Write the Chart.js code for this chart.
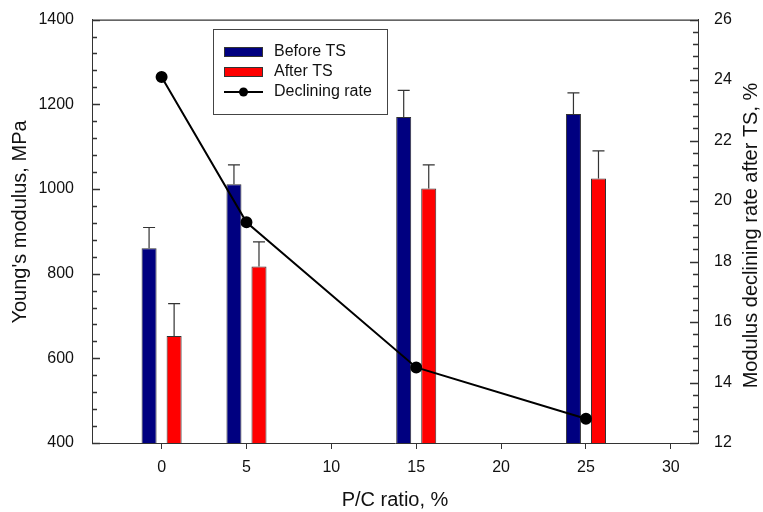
<!DOCTYPE html>
<html>
<head>
<meta charset="utf-8">
<script src="https://cdn.jsdelivr.net/npm/chart.js@4.4.1/dist/chart.umd.min.js"></script>
<style>
  html, body { margin: 0; padding: 0; background: #fff; }
  #wrap { width: 763px; height: 512px; position: relative; }
</style>
</head>
<body>
<div id="wrap"><canvas id="chart"></canvas></div>
<script>
// P/C ratio (%)
const ratios     = [0, 5, 15, 25];
// Young's modulus (MPa)
const beforeTS   = [860, 1011, 1170, 1177];
const beforeErr  = [49, 46, 63, 50];
const afterTS    = [653, 817, 1001, 1025];
const afterErr   = [76, 58, 56, 65];
// declining rate after TS (%)
const declRate   = [24.1, 19.3, 14.5, 12.8];

const xTicks     = [0, 5, 10, 15, 20, 25, 30];
const leftTicks  = [400, 600, 800, 1000, 1200, 1400];
const rightTicks = [12, 14, 16, 18, 20, 22, 24, 26];
const MINOR_PER_MAJOR = 5;

const FONT = "'Liberation Sans', Arial, sans-serif";
const AXIS = '#333';
const errBars = { 0: beforeErr, 1: afterErr };

const pts = ys => ratios.map((x, i) => ({ x, y: ys[i] }));

// upper error bars, drawn right after each bar dataset so the line stays on top
const errorBarPlugin = {
  id: 'errorBars',
  afterDatasetDraw(chart, args) {
    const errs = errBars[args.index];
    if (!errs) return;
    const ctx = chart.ctx;
    const y = chart.scales.y;
    const vals = chart.data.datasets[args.index].data;
    ctx.save();
    ctx.strokeStyle = '#333';
    ctx.lineWidth = 1.2;
    args.meta.data.forEach((bar, i) => {
      const top = y.getPixelForValue(vals[i].y);
      const end = y.getPixelForValue(vals[i].y + errs[i]);
      ctx.beginPath();
      ctx.moveTo(bar.x, top);
      ctx.lineTo(bar.x, end);
      ctx.moveTo(bar.x - 6, end);
      ctx.lineTo(bar.x + 6, end);
      ctx.stroke();
    });
    ctx.restore();
  }
};

// inward ticks (major + 4 minor between) along one vertical axis
function axisTicks(ctx, scale, majors, x0, dir) {
  for (let i = 0; i < majors.length; i++) {
    const p = Math.round(scale.getPixelForValue(majors[i])) + 0.5;
    ctx.moveTo(x0, p);
    ctx.lineTo(x0 + dir * 8, p);
    if (i === majors.length - 1) break;
    const step = (majors[i + 1] - majors[i]) / MINOR_PER_MAJOR;
    for (let k = 1; k < MINOR_PER_MAJOR; k++) {
      const q = Math.round(scale.getPixelForValue(majors[i] + k * step)) + 0.5;
      ctx.moveTo(x0, q);
      ctx.lineTo(x0 + dir * 5, q);
    }
  }
}

// frame top line, y ticks, y titles, legend box
const framePlugin = {
  id: 'frame',
  afterDraw(chart) {
    const ctx = chart.ctx;
    const a = chart.chartArea;
    ctx.save();
    ctx.strokeStyle = AXIS;
    ctx.lineWidth = 1.3;
    ctx.beginPath();
    ctx.moveTo(a.left, a.top + 0.5);
    ctx.lineTo(a.right, a.top + 0.5);
    axisTicks(ctx, chart.scales.y, leftTicks, a.left, 1);
    axisTicks(ctx, chart.scales.y2, rightTicks, a.right, -1);
    ctx.stroke();

    ctx.fillStyle = '#111';
    ctx.font = '20px ' + FONT;
    ctx.textAlign = 'center';
    ctx.textBaseline = 'middle';
    ctx.save();
    ctx.translate(20.5, 222);
    ctx.rotate(-Math.PI / 2);
    ctx.fillText("Young's modulus, MPa", 0, 0);
    ctx.restore();
    ctx.save();
    ctx.translate(751, 235.5);
    ctx.rotate(-Math.PI / 2);
    ctx.fillText('Modulus declining rate after TS, %', 0, 0);
    ctx.restore();

    // legend
    const lx = 213, ly = 29, lw = 174, lh = 85;
    ctx.strokeStyle = '#444';
    ctx.lineWidth = 1;
    ctx.strokeRect(lx + 0.5, ly + 0.5, lw, lh);
    ctx.font = '16px ' + FONT;
    ctx.textAlign = 'left';
    chart.data.datasets.forEach((ds, i) => {
      const cy = 52 + i * 20;
      if (ds.type === 'line') {
        ctx.strokeStyle = ds.borderColor;
        ctx.lineWidth = 2;
        ctx.beginPath();
        ctx.moveTo(224, cy);
        ctx.lineTo(263, cy);
        ctx.stroke();
        ctx.fillStyle = ds.pointBackgroundColor;
        ctx.beginPath();
        ctx.arc(243.5, cy, 4.5, 0, Math.PI * 2);
        ctx.fill();
      } else {
        ctx.fillStyle = ds.backgroundColor;
        ctx.fillRect(224, cy - 5, 39, 10);
        ctx.strokeStyle = '#333';
        ctx.lineWidth = 1;
        ctx.strokeRect(224.5, cy - 4.5, 38, 9);
      }
      ctx.fillStyle = '#111';
      ctx.fillText(ds.label, 274, cy);
    });
    ctx.restore();
  }
};

const plain = v => String(v);

new Chart(document.getElementById('chart'), {
  data: {
    datasets: [
      {
        type: 'bar', label: 'Before TS', data: pts(beforeTS), yAxisID: 'y',
        backgroundColor: '#000080', borderColor: '#333', borderWidth: 1,
        categoryPercentage: 0.59, barPercentage: 0.6, order: 2
      },
      {
        type: 'bar', label: 'After TS', data: pts(afterTS), yAxisID: 'y',
        backgroundColor: '#ff0000', borderColor: '#333', borderWidth: 1,
        categoryPercentage: 0.59, barPercentage: 0.6, order: 2
      },
      {
        type: 'line', label: 'Declining rate', data: pts(declRate), yAxisID: 'y2',
        borderColor: '#000', borderWidth: 2, pointRadius: 5, pointHoverRadius: 5,
        pointBackgroundColor: '#000', pointBorderColor: '#000', tension: 0, order: 0
      }
    ]
  },
  options: {
    responsive: true, maintainAspectRatio: false, animation: false,
    layout: { padding: { top: 18, left: 0, right: 0, bottom: 0 } },
    plugins: { legend: { display: false }, tooltip: { enabled: false } },
    scales: {
      x: {
        type: 'linear', min: -4.1, max: 31.6, offset: false,
        afterBuildTicks: s => { s.ticks = xTicks.map(value => ({ value })); },
        afterFit: s => { s.height = 69; },
        ticks: { includeBounds: false, padding: 9, color: '#111', callback: plain, font: { family: FONT, size: 16 } },
        grid: { display: true, offset: false, drawOnChartArea: false, drawTicks: true, tickLength: 6, color: AXIS },
        border: { display: true, color: AXIS },
        title: { display: true, text: 'P/C ratio, %', color: '#111', padding: { top: 0, bottom: 0 }, font: { family: FONT, size: 20 } }
      },
      y: {
        type: 'linear', position: 'left', min: 400, max: 1400,
        afterBuildTicks: s => { s.ticks = leftTicks.map(value => ({ value })); },
        afterFit: s => { s.width = 92; },
        ticks: { padding: 10, color: '#111', callback: plain, font: { family: FONT, size: 16 } },
        grid: { display: false },
        border: { display: true, color: AXIS }
      },
      y2: {
        type: 'linear', position: 'right', min: 12, max: 26,
        afterBuildTicks: s => { s.ticks = rightTicks.map(value => ({ value })); },
        afterFit: s => { s.width = 65; },
        ticks: { padding: 8, color: '#111', callback: plain, font: { family: FONT, size: 16 } },
        grid: { display: false },
        border: { display: true, color: AXIS }
      }
    }
  },
  plugins: [errorBarPlugin, framePlugin]
});
</script>
</body>
</html>
